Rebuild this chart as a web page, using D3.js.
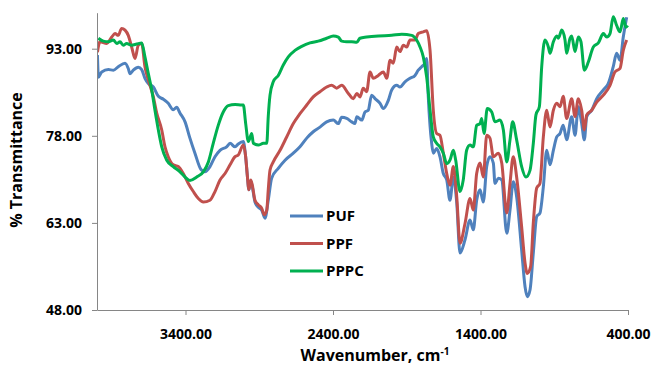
<!DOCTYPE html>
<html>
<head>
<meta charset="utf-8">
<script src="https://cdn.jsdelivr.net/npm/d3@7"></script>
<style>
  body { margin: 0; background: #fff; }
  svg { display: block; font-family: "Open Sans", sans-serif; }
  .tick text { font-weight: bold; font-size: 14px; fill: #000; }
  .axis path, .axis line { stroke: #868686; }
</style>
</head>
<body>
<svg id="chart"></svg>
<script>
const width = 653;
const height = 367;

// x tick labels / y tick labels
const xTicks = [3400, 2400, 1400, 400];
const yTicks = [48, 63, 78, 93];

const seriesNames = ["PUF", "PPF", "PPPC"];
const seriesColors = ["#4F81BD", "#C0504D", "#00B050"];

// PUF
const pufWn = [3997, 3990, 3968, 3923, 3889, 3856, 3810, 3788, 3776, 3754, 3720, 3697, 3675, 3652, 3618, 3584, 3550, 3517, 3483, 3460, 3437, 3403, 3370, 3336, 3295, 3268, 3234, 3200, 3166, 3121, 3098, 3064, 3042, 3008, 2992, 2981, 2970, 2958, 2947, 2929, 2906, 2883, 2861, 2839, 2816, 2771, 2725, 2669, 2624, 2578, 2534, 2488, 2443, 2398, 2364, 2341, 2307, 2273, 2251, 2239, 2205, 2183, 2161, 2138, 2115, 2081, 2059, 2025, 2002, 1968, 1946, 1912, 1878, 1844, 1822, 1799, 1776, 1765, 1754, 1731, 1720, 1697, 1675, 1652, 1629, 1607, 1584, 1561, 1539, 1505, 1471, 1449, 1426, 1403, 1381, 1358, 1336, 1313, 1302, 1279, 1256, 1222, 1200, 1178, 1155, 1121, 1098, 1083, 1064, 1042, 1019, 997, 974, 951, 929, 906, 883, 861, 839, 816, 782, 759, 737, 714, 696, 680, 646, 612, 567, 534, 500, 477, 454, 432, 409];
const pufT = [91.9, 88.1, 89.0, 89.4, 89.3, 89.9, 90.5, 89.6, 88.7, 89.3, 89.8, 89.4, 87.9, 87.0, 86.4, 84.8, 84.3, 83.6, 82.5, 82.9, 81.9, 80.4, 77.6, 75.0, 72.2, 71.8, 72.7, 74.4, 75.5, 76.1, 76.7, 76.1, 76.6, 77.0, 74.3, 71.2, 68.7, 70.2, 69.2, 66.6, 65.7, 65.2, 63.8, 66.9, 70.7, 72.4, 73.8, 75.0, 76.1, 77.6, 78.7, 79.5, 80.4, 80.7, 80.1, 81.2, 81.0, 80.4, 80.1, 81.3, 80.7, 82.1, 82.4, 85.0, 84.4, 83.6, 82.7, 84.1, 85.9, 86.7, 86.4, 87.3, 87.9, 88.4, 89.3, 89.9, 90.5, 91.3, 84.7, 76.7, 75.0, 75.8, 74.4, 71.5, 70.4, 66.9, 70.9, 66.4, 57.8, 60.1, 63.5, 61.8, 66.9, 68.7, 66.6, 72.7, 74.4, 73.3, 69.8, 70.7, 70.4, 61.2, 65.2, 70.1, 67.5, 58.3, 52.0, 50.3, 51.5, 57.8, 64.1, 64.7, 69.2, 75.5, 73.0, 75.5, 77.8, 78.4, 79.8, 77.3, 81.3, 78.1, 83.0, 80.1, 77.3, 81.3, 82.4, 84.4, 85.9, 87.0, 89.9, 92.2, 91.0, 95.0, 98.4];

// PPF
const ppfWn = [3997, 3980, 3934, 3900, 3878, 3856, 3833, 3810, 3788, 3765, 3742, 3720, 3697, 3675, 3652, 3618, 3595, 3561, 3539, 3517, 3483, 3449, 3415, 3381, 3347, 3313, 3279, 3234, 3200, 3166, 3132, 3098, 3064, 3042, 3008, 2992, 2981, 2970, 2958, 2947, 2929, 2906, 2883, 2866, 2849, 2839, 2827, 2805, 2759, 2714, 2669, 2624, 2578, 2534, 2488, 2443, 2409, 2375, 2341, 2296, 2262, 2239, 2217, 2195, 2172, 2149, 2127, 2093, 2059, 2036, 2013, 1991, 1968, 1946, 1923, 1900, 1878, 1844, 1822, 1788, 1765, 1742, 1720, 1697, 1675, 1652, 1629, 1607, 1584, 1561, 1539, 1505, 1471, 1449, 1426, 1403, 1381, 1358, 1336, 1313, 1279, 1256, 1222, 1200, 1178, 1155, 1121, 1098, 1083, 1060, 1042, 1019, 997, 974, 951, 929, 906, 883, 861, 839, 816, 782, 759, 737, 714, 696, 680, 646, 612, 567, 522, 488, 454, 432, 409];
const ppfT = [92.4, 94.2, 93.9, 95.0, 95.6, 95.3, 96.5, 96.2, 95.3, 93.3, 91.3, 93.6, 93.9, 89.9, 87.6, 84.7, 81.9, 79.0, 76.1, 74.4, 73.0, 72.7, 71.5, 69.8, 68.4, 67.2, 66.6, 66.9, 68.4, 70.4, 71.5, 73.0, 74.4, 74.7, 76.4, 74.4, 71.2, 68.7, 70.4, 69.5, 66.9, 66.1, 65.5, 64.4, 65.2, 68.7, 72.1, 73.5, 75.5, 77.8, 80.1, 81.8, 83.3, 84.7, 85.6, 86.4, 86.7, 86.2, 86.7, 85.3, 84.4, 85.3, 84.7, 86.2, 85.6, 89.0, 87.9, 88.4, 89.0, 87.9, 91.0, 90.5, 93.3, 92.5, 93.6, 93.3, 94.5, 94.5, 95.6, 95.9, 96.1, 92.7, 82.4, 78.4, 78.1, 75.0, 71.5, 69.5, 72.7, 67.5, 59.5, 62.9, 67.2, 65.2, 71.5, 73.3, 70.9, 78.1, 77.6, 74.4, 75.0, 73.3, 64.7, 69.8, 74.4, 70.9, 62.3, 56.1, 54.3, 55.5, 63.0, 69.0, 69.8, 77.8, 82.4, 79.5, 82.4, 83.6, 83.0, 84.8, 81.0, 84.4, 81.3, 84.4, 82.4, 79.0, 81.6, 82.4, 83.8, 85.0, 86.7, 89.0, 89.6, 92.7, 94.5];

// PPPC
const pppcWn = [3991, 3957, 3923, 3889, 3866, 3844, 3822, 3799, 3765, 3731, 3697, 3675, 3652, 3629, 3607, 3584, 3561, 3527, 3483, 3437, 3403, 3370, 3324, 3279, 3245, 3212, 3178, 3144, 3110, 3064, 3019, 3008, 2992, 2974, 2951, 2940, 2906, 2872, 2849, 2839, 2827, 2805, 2771, 2737, 2703, 2658, 2612, 2556, 2500, 2443, 2398, 2364, 2341, 2307, 2273, 2239, 2217, 2172, 2093, 2002, 1934, 1866, 1833, 1810, 1788, 1765, 1742, 1720, 1697, 1675, 1652, 1629, 1607, 1584, 1568, 1539, 1517, 1494, 1471, 1449, 1426, 1403, 1392, 1376, 1354, 1324, 1302, 1268, 1245, 1222, 1200, 1182, 1155, 1121, 1092, 1064, 1042, 1024, 1001, 985, 963, 940, 929, 906, 883, 872, 849, 827, 816, 793, 782, 759, 737, 719, 696, 669, 635, 601, 567, 544, 522, 500, 477, 454, 432, 414, 402];
const pppcT = [94.8, 94.3, 94.2, 94.5, 93.9, 94.2, 93.6, 93.9, 93.6, 93.8, 94.0, 91.6, 88.7, 85.9, 82.4, 79.0, 76.1, 73.8, 72.7, 71.8, 70.9, 70.3, 70.9, 71.8, 73.5, 76.7, 79.8, 82.1, 83.2, 83.4, 83.3, 83.3, 80.1, 77.0, 78.4, 76.7, 76.4, 76.7, 76.7, 81.3, 85.0, 87.3, 88.4, 90.2, 91.6, 92.7, 93.4, 94.0, 94.3, 94.8, 95.2, 95.0, 94.3, 94.2, 94.2, 94.1, 94.8, 95.0, 95.2, 95.3, 95.5, 95.3, 94.5, 93.3, 91.6, 88.1, 82.4, 77.8, 76.7, 76.1, 75.0, 73.2, 73.8, 75.5, 73.8, 68.4, 70.4, 75.5, 76.4, 76.1, 79.8, 80.1, 81.0, 78.4, 82.7, 82.1, 80.4, 80.7, 79.0, 73.5, 77.3, 80.4, 77.3, 72.7, 70.9, 72.1, 76.7, 81.6, 83.0, 89.9, 94.5, 93.3, 92.2, 94.2, 95.2, 94.8, 96.2, 94.5, 92.2, 94.8, 95.2, 92.5, 95.0, 94.2, 89.3, 90.7, 93.3, 94.0, 95.6, 95.0, 95.6, 98.5, 97.0, 95.9, 98.2, 96.7, 97.0];

const series = [
  { name: seriesNames[0], color: seriesColors[0], wn: pufWn, t: pufT },
  { name: seriesNames[1], color: seriesColors[1], wn: ppfWn, t: ppfT },
  { name: seriesNames[2], color: seriesColors[2], wn: pppcWn, t: pppcT }
];

const margin = { top: 12.7, right: 25, bottom: 57, left: 97 };
const innerW = width - margin.left - margin.right;
const innerH = height - margin.top - margin.bottom;

const svg = d3.select("#chart")
  .attr("width", width)
  .attr("height", height);

const g = svg.append("g")
  .attr("transform", `translate(${margin.left},${margin.top})`);

// reversed wavenumber axis
const x = d3.scaleLinear().domain([4000, 400]).range([0, innerW]);
const y = d3.scaleLinear().domain([48, 99.2]).range([innerH, 0]);

g.append("clipPath").attr("id", "clip")
  .append("rect").attr("width", innerW + 2).attr("height", innerH + 2).attr("y", -2);

const line = d3.line()
  .x(d => x(d[0]))
  .y(d => y(d[1]))
  .curve(d3.curveMonotoneX);

g.append("g")
  .attr("clip-path", "url(#clip)")
  .selectAll("path")
  .data(series)
  .enter()
  .append("path")
  .attr("fill", "none")
  .attr("stroke", d => d.color)
  .attr("stroke-width", 3)
  .attr("stroke-linejoin", "round")
  .attr("d", d => line(d.wn.map((w, i) => [w, d.t[i]])));

// axes
const xAxis = g.append("g")
  .attr("class", "axis")
  .attr("transform", `translate(0,${innerH})`)
  .call(d3.axisBottom(x).tickValues(xTicks).tickFormat(d3.format(".2f")).tickSize(5).tickSizeOuter(0).tickPadding(14));

const yAxis = g.append("g")
  .attr("class", "axis")
  .call(d3.axisLeft(y).tickValues(yTicks).tickFormat(d3.format(".2f")).tickSize(5).tickSizeOuter(0).tickPadding(10));

xAxis.selectAll("text").attr("font-family", "Open Sans");
yAxis.selectAll("text").attr("font-family", "Open Sans");

// axis titles
const xTitle = svg.append("text")
  .attr("x", 375)
  .attr("y", 361)
  .attr("text-anchor", "middle")
  .attr("font-weight", "bold")
  .attr("font-size", 16)
  .text("Wavenumber, cm");
xTitle.append("tspan")
  .attr("dy", -6)
  .attr("font-size", 10)
  .text("-1");

svg.append("text")
  .attr("transform", "translate(22,160) rotate(-90)")
  .attr("text-anchor", "middle")
  .attr("font-weight", "bold")
  .attr("font-size", 16)
  .text("% Transmittance");

// legend
const legend = svg.append("g")
  .selectAll("g")
  .data(series)
  .enter()
  .append("g")
  .attr("transform", (d, i) => `translate(290,${216 + i * 27.5})`);

legend.append("line")
  .attr("x1", 0).attr("x2", 33)
  .attr("stroke", d => d.color)
  .attr("stroke-width", 3);

legend.append("text")
  .attr("x", 36)
  .attr("dy", "0.36em")
  .attr("font-weight", "bold")
  .attr("font-size", 15)
  .text(d => d.name);
</script>
</body>
</html>
